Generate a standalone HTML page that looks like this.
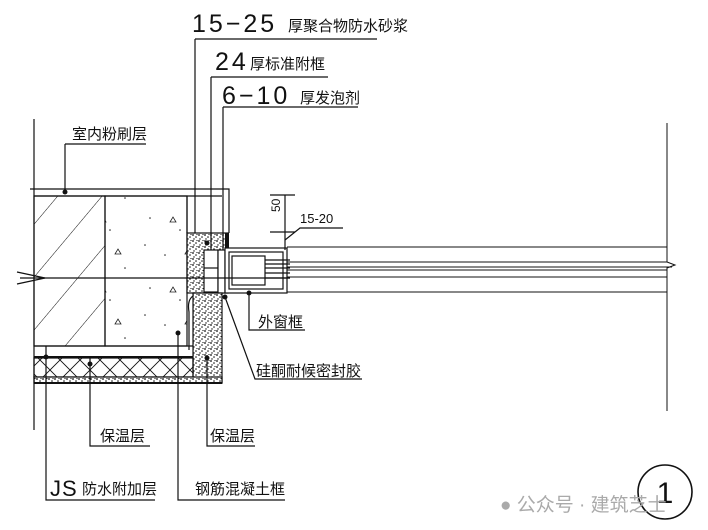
<!DOCTYPE html>
<html><head><meta charset="utf-8"><style>
html,body{margin:0;padding:0;background:#fff;}
svg{display:block}
.cn{font-family:"Liberation Sans","Noto Sans CJK SC",sans-serif;font-size:15px;fill:#111;}
.num{font-family:"Liberation Sans",sans-serif;font-size:25px;fill:#111;letter-spacing:3px;}
</style></head><body>
<svg width="708" height="530" viewBox="0 0 708 530" xmlns="http://www.w3.org/2000/svg">
<defs>
<pattern id="hatch" width="34" height="34" patternUnits="userSpaceOnUse" patternTransform="rotate(40)">
<line x1="0" y1="0" x2="0" y2="34" stroke="#111" stroke-width="1"/>
</pattern>
<pattern id="xh" width="20" height="20" patternUnits="userSpaceOnUse">
<path d="M0 0L20 20M20 0L0 20" stroke="#111" stroke-width="0.9"/>
</pattern>
<pattern id="dots" width="6" height="6" patternUnits="userSpaceOnUse">
<rect width="6" height="6" fill="#fff"/>
<circle cx="1" cy="1" r="0.9" fill="#111"/><circle cx="4" cy="3" r="0.8" fill="#111"/><circle cx="2" cy="5" r="0.7" fill="#111"/><circle cx="5" cy="0.5" r="0.6" fill="#111"/>
</pattern>
<pattern id="conc" width="70" height="70" patternUnits="userSpaceOnUse">
<circle cx="10" cy="8" r="0.8" fill="#222"/><circle cx="40" cy="20" r="0.8" fill="#222"/><circle cx="25" cy="45" r="0.8" fill="#222"/><circle cx="55" cy="58" r="0.8" fill="#222"/><circle cx="5" cy="35" r="0.8" fill="#222"/>
<path d="M30 12l3 -5l3 5z M45 44l3 -5l3 5z" fill="none" stroke="#222" stroke-width="0.8"/>
</pattern>
</defs>
<g stroke="#111" stroke-width="1.2" fill="none">
<rect x="34" y="196" width="71" height="150" fill="url(#hatch)"/>
<rect x="105" y="196" width="82" height="150" fill="url(#conc)"/>
<path d="M187 196V233" />
<path d="M30 189H229V233"/>
<path d="M34 196H222"/>
<rect x="187" y="233" width="41" height="60" fill="url(#dots)"/>
<rect x="204" y="250" width="14" height="42" fill="#fff"/>
<path d="M204 268H218"/>
<rect x="218" y="250" width="7" height="43" fill="#fff"/>
<rect x="225" y="233" width="4" height="60" fill="#111" stroke="none"/>
<path d="M193 293H222V383H193Z" fill="url(#dots)"/>
<path d="M193 296Q187 300 189 312V350"/>
<path d="M34 346H193"/>
<path d="M34 357H193" stroke-width="2"/>
<rect x="34" y="358" width="159" height="19" fill="url(#xh)"/>
<rect x="34" y="377" width="188" height="6" fill="url(#dots)"/>
<path d="M34 383H222" stroke-width="2"/>
<rect x="225" y="248" width="62" height="45" fill="#fff"/>
<rect x="229" y="252" width="54" height="37"/>
<rect x="232" y="256" width="33" height="29"/>
<path d="M265 260H290M265 264H290M265 268H290M265 273H290M265 278H290"/>
<path d="M287 247H667M287 262H667M287 267H672M287 270H667M287 277H667M287 292H667" stroke-width="1"/>
<path d="M667 123V262l8 3l-8 3V411" stroke-width="1"/>
<path d="M20 278H290"/>
<path d="M17 272L45 278L17 284"/>
<path d="M34 119V430"/>
<path d="M46 346V500H155"/>
<path d="M195 39H377M195 39V233"/>
<path d="M211 77H328M211 77V250"/>
<path d="M223 107H358M223 107V250"/>
<path d="M65 144H146M65 144V192"/>
<path d="M285 195V250M270 195H295M270 232H295"/>
<path d="M285 240L300 228H343"/>
<path d="M249 293V330H305"/>
<path d="M225 297L255 379H362"/>
<path d="M90 357V446H150"/>
<path d="M207 355V446H255"/>
<path d="M178 333V500H285"/>
<circle cx="665" cy="492" r="27" stroke-width="1.6"/>
</g>
<g fill="#111">
<circle cx="65" cy="192" r="2.5"/><circle cx="207" cy="243" r="2.5"/><circle cx="178" cy="333" r="2.5"/>
<circle cx="46" cy="357" r="2.5"/><circle cx="90" cy="364" r="2.5"/><circle cx="207" cy="358" r="2.5"/>
<circle cx="249" cy="293" r="2.5"/><circle cx="225" cy="297" r="2.5"/>
</g>
<text x="192" y="32" class="num">15−25</text><text x="288" y="31" class="cn">厚聚合物防水砂浆</text>
<text x="215" y="70" class="num">24</text><text x="250" y="69" class="cn">厚标准附框</text>
<text x="222" y="104" class="num">6−10</text><text x="300" y="103" class="cn">厚发泡剂</text>
<text x="72" y="139" class="cn">室内粉刷层</text>
<text x="280" y="212" class="cn" transform="rotate(-90 280 212)" style="font-size:12px">50</text>
<text x="300" y="223" class="cn" style="font-size:13px">15-20</text>
<text x="258" y="327" class="cn">外窗框</text>
<text x="256" y="376" class="cn">硅酮耐候密封胶</text>
<text x="100" y="441" class="cn">保温层</text>
<text x="210" y="441" class="cn">保温层</text>
<text x="50" y="496" class="num" style="font-size:22px;letter-spacing:1px">JS</text><text x="82" y="494" class="cn">防水附加层</text>
<text x="195" y="494" class="cn">钢筋混凝土框</text>
<text x="665" y="503" text-anchor="middle" class="num" style="font-size:30px;letter-spacing:0">1</text>
<text x="500" y="511" class="cn" style="fill:#aaa;font-size:19px">● 公众号 · 建筑芝士</text>
</svg>
</body></html>
